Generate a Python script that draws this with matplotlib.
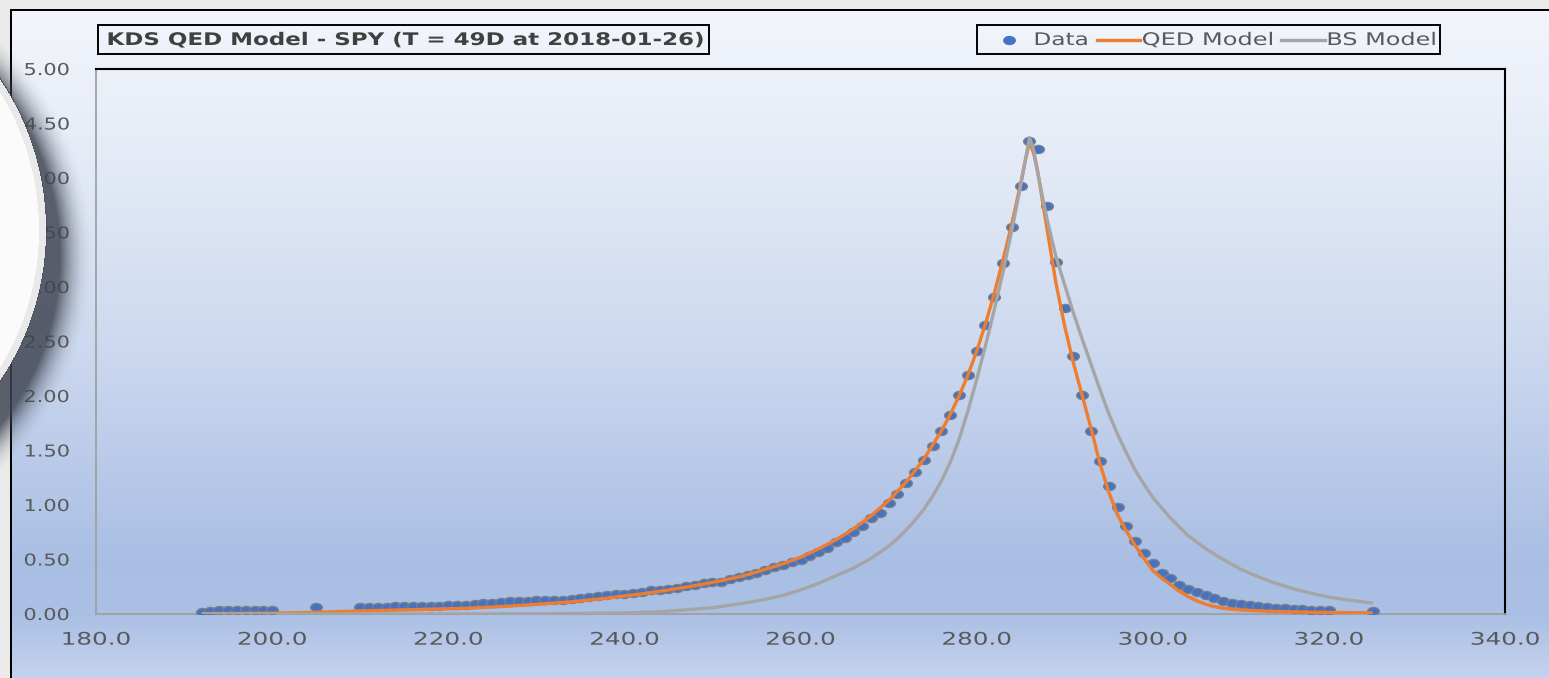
import numpy as np
import matplotlib
matplotlib.use("Agg")
import matplotlib.pyplot as plt
from matplotlib.path import Path
from matplotlib.patheffects import AbstractPathEffect
from matplotlib.transforms import Affine2D
from matplotlib.lines import Line2D
from matplotlib.patches import Rectangle
from matplotlib.markers import MarkerStyle

# ---------------- data ----------------
title = "KDS QED Model - SPY (T = 49D at 2018-01-26)"
legend_labels = ["Data", "QED Model", "BS Model"]

data_strike = list(range(192, 201)) + [205] + list(range(210, 321)) + [325]
data_price = [
    0.02, 0.03, 0.04, 0.04, 0.04, 0.04, 0.04, 0.04, 0.04,
    0.06,
    0.06, 0.06, 0.06, 0.065, 0.075, 0.075, 0.075, 0.075, 0.075, 0.075,
    0.078, 0.08, 0.085, 0.095, 0.098, 0.105, 0.107, 0.115, 0.118, 0.122,
    0.126, 0.128, 0.13, 0.132, 0.142, 0.15, 0.154, 0.165, 0.178, 0.18,
    0.183, 0.195, 0.205, 0.218, 0.222, 0.23, 0.235, 0.255, 0.27, 0.28,
    0.29, 0.298, 0.325, 0.342, 0.358, 0.375, 0.40, 0.43, 0.45, 0.48,
    0.50, 0.53, 0.57, 0.61, 0.66, 0.70, 0.75, 0.81, 0.88, 0.93,
    1.02, 1.10, 1.20, 1.30, 1.41, 1.54, 1.68, 1.83, 2.01, 2.19,
    2.41, 2.65, 2.91, 3.22, 3.55, 3.93, 4.34, 4.27, 3.74, 3.23,
    2.81, 2.37, 2.01, 1.68, 1.40, 1.17, 0.98, 0.81, 0.67, 0.56,
    0.47, 0.38, 0.33, 0.27, 0.23, 0.20, 0.175, 0.145, 0.12, 0.105,
    0.092, 0.078, 0.07, 0.068, 0.056, 0.054, 0.047, 0.045, 0.04, 0.04,
    0.038,
    0.025,
]

qed_strike = [192, 200, 205, 210, 215, 220, 222, 226, 230, 234, 238, 242, 245,
              248, 251, 254, 256, 258, 260, 262, 264, 266, 268, 270, 272, 274,
              276, 277, 278, 279, 280, 281, 282, 283, 284, 285, 285.5, 286,
              286.5, 287, 288, 289, 290, 291, 292, 293, 294, 295, 296, 297,
              298, 299, 300, 301, 302, 303, 304, 305, 306, 307, 308, 310, 313,
              318, 325]
qed_price = [0.004, 0.008, 0.015, 0.028, 0.038, 0.048, 0.052, 0.068, 0.088,
             0.112, 0.145, 0.185, 0.22, 0.26, 0.305, 0.36, 0.41, 0.46, 0.52,
             0.595, 0.68, 0.78, 0.90, 1.04, 1.21, 1.42, 1.68, 1.83, 2.00, 2.19,
             2.41, 2.66, 2.94, 3.25, 3.58, 3.95, 4.15, 4.33, 4.22, 4.03, 3.53,
             3.04, 2.64, 2.30, 2.00, 1.70, 1.38, 1.12, 0.91, 0.76, 0.63, 0.51,
             0.40, 0.33, 0.27, 0.21, 0.16, 0.12, 0.09, 0.068, 0.053, 0.036,
             0.026, 0.016, 0.01]

bs_strike = [192, 220, 230, 236, 240, 244, 248, 250, 252, 254, 256, 258, 260,
             262, 264, 266, 268, 270, 271, 272, 273, 274, 275, 276, 277, 278,
             279, 280, 281, 282, 283, 284, 285, 285.5, 286, 286.5, 287, 288,
             289, 290, 291, 292, 293, 294, 295, 296, 297, 298, 299, 300, 302,
             304, 306, 308, 310, 312, 314, 316, 318, 320, 322, 325]
bs_price = [0.0, 0.0, 0.002, 0.006, 0.01, 0.02, 0.045, 0.058, 0.08, 0.105,
            0.135, 0.17, 0.22, 0.28, 0.35, 0.42, 0.51, 0.62, 0.69, 0.77, 0.86,
            0.96, 1.08, 1.22, 1.39, 1.60, 1.86, 2.15, 2.46, 2.79, 3.14, 3.52,
            3.93, 4.15, 4.37, 4.25, 4.02, 3.62, 3.28, 3.02, 2.76, 2.52, 2.29,
            2.06, 1.84, 1.65, 1.48, 1.32, 1.19, 1.07, 0.88, 0.72, 0.60, 0.50,
            0.41, 0.34, 0.28, 0.23, 0.19, 0.155, 0.13, 0.10]

x_ticks = [180, 200, 220, 240, 260, 280, 300, 320, 340]
y_ticks = [0.0, 0.5, 1.0, 1.5, 2.0, 2.5, 3.0, 3.5, 4.0, 4.5, 5.0]

# ---------------- styling helpers ----------------
W, H = 1549, 678
DPI = 100
BLUE = "#4472c4"
ORANGE = "#ed7d31"
GREY = "#a5a5a5"
TXT = "#595959"


class StretchX(AbstractPathEffect):
    """Draw text stretched horizontally (the reference font is wide)."""

    def __init__(self, sx=1.0, anchor="center", target=None):
        super().__init__()
        self.sx = sx
        self.anchor = anchor
        self.target = target

    def draw_path(self, renderer, gc, tpath, affine, rgbFace=None):
        ext = tpath.get_extents(affine)
        sx = self.sx
        if self.target is not None and ext.width > 0:
            sx = self.target / ext.width
        if self.anchor == "left":
            a = ext.x0
        elif self.anchor == "right":
            a = ext.x1
        else:
            a = 0.5 * (ext.x0 + ext.x1)
        t = affine + Affine2D().translate(-a, 0).scale(sx, 1).translate(a, 0)
        renderer.draw_path(gc, tpath, t, rgbFace)


def fx(px):
    return px / W


def fy(py):
    return 1 - py / H


ellipse = MarkerStyle(Affine2D().scale(1.45, 1.0).transform_path(Path.unit_circle()))

fig = plt.figure(figsize=(W / DPI, H / DPI), dpi=DPI)

# ---------------- background (chart area gradient + frame) ----------------
bg_ax = fig.add_axes([0, 0, 1, 1], zorder=0)
yy = np.arange(H) + 0.5
stops_y = [9, 150, 350, 560, 615, 678]
stops_c = np.array([
    [0.95, 0.96, 0.985],
    [0.90, 0.925, 0.967],
    [0.80, 0.848, 0.937],
    [0.665, 0.748, 0.893],
    [0.67, 0.752, 0.898],
    [0.77, 0.825, 0.93],
])
col = np.stack([np.interp(yy, stops_y, stops_c[:, k]) for k in range(3)], axis=1)
bg = np.repeat(col[:, None, :], W, axis=1)
bg[:9, :, :] = 0.92
bg[:, :10, :] = 0.92
bg[9:11, 10:, :] = 0.0
bg[9:, 10:12, :] = 0.0
bg_ax.imshow(bg, extent=(0, W, H, 0), interpolation="nearest", aspect="auto")
bg_ax.set_xlim(0, W)
bg_ax.set_ylim(H, 0)
bg_ax.axis("off")

# ---------------- main plot ----------------
ax = fig.add_axes([fx(96), fy(614), (1505 - 96) / W, (614 - 69) / H], zorder=2)
ax.set_facecolor("none")
ax.plot(data_strike, data_price, linestyle="none", marker=ellipse, ms=8.4,
        mfc=BLUE, mec="#7a7f88", mew=1.0, zorder=3)
ax.plot(qed_strike, qed_price, color=ORANGE, lw=2.4, zorder=4,
        solid_joinstyle="round", solid_capstyle="butt")
ax.plot(bs_strike, bs_price, color=GREY, lw=2.4, zorder=5,
        solid_joinstyle="round", solid_capstyle="butt")

ax.set_xlim(180, 340)
ax.set_ylim(0, 5)
ax.set_xticks(x_ticks)
ax.set_xticklabels([f"{v:.1f}" for v in x_ticks])
ax.set_yticks(y_ticks)
ax.set_yticklabels([f"{v:.2f}" for v in y_ticks])
ax.tick_params(axis="both", length=0, colors=TXT)
ax.tick_params(axis="x", labelsize=12.5, pad=12)
ax.tick_params(axis="y", labelsize=11.8, pad=19)
for lbl in ax.get_xticklabels():
    lbl.set_path_effects([StretchX(1.42, "center")])
for lbl in ax.get_yticklabels():
    lbl.set_path_effects([StretchX(1.27, "right")])

for s in ("left", "bottom"):
    ax.spines[s].set_color("#a0a0a0")
    ax.spines[s].set_linewidth(1.3)
for s in ("top", "right"):
    ax.spines[s].set_color("black")
    ax.spines[s].set_linewidth(1.5)

# ---------------- title box ----------------
fig.add_artist(Rectangle((fx(98), fy(54)), (709 - 98) / W, 29 / H,
                         transform=fig.transFigure, fill=False, ec="black",
                         lw=1.4, zorder=6))
fig.text(fx(107), fy(40), title, ha="left", va="center", fontsize=12.5,
         fontweight="bold", color="#404040", zorder=6,
         path_effects=[StretchX(anchor="left", target=594)])

# ---------------- legend ----------------
fig.add_artist(Rectangle((fx(977), fy(54)), (1440 - 977) / W, 29 / H,
                         transform=fig.transFigure, fill=False, ec="black",
                         lw=1.4, zorder=6))
fig.add_artist(Line2D([fx(1009)], [fy(40)], transform=fig.transFigure,
                      linestyle="none", marker=ellipse, ms=8.2, mfc=BLUE,
                      mec=BLUE, zorder=6))
fig.add_artist(Line2D([fx(1097), fx(1140)], [fy(40), fy(40)],
                      transform=fig.transFigure, color=ORANGE, lw=2.4, zorder=6))
fig.add_artist(Line2D([fx(1281), fx(1325)], [fy(40), fy(40)],
                      transform=fig.transFigure, color=GREY, lw=2.4, zorder=6))
for txt, left, width in zip(legend_labels, [1034, 1142, 1327], [51, 129, 106]):
    fig.text(fx(left), fy(40), txt, ha="left", va="center", fontsize=12.5,
             color=TXT, zorder=6,
             path_effects=[StretchX(anchor="left", target=width)])

# ---------------- round overlay with shadow (left edge) ----------------
ov = fig.add_axes([0, 0, 1, 1], zorder=10)
Y, X = np.mgrid[0:H, 0:W] + 0.5
cx, cy, R = -224.0, 230.0, 270.0
d = np.hypot(X - cx, Y - cy)
ds = np.hypot(X - (cx + 14), Y - (cy + 26)) - R
rgba = np.zeros((H, W, 4))
sh = np.clip(1 - ds / 34.0, 0, 1) ** 2.0 * 0.84
rgba[..., 0] = 0.25
rgba[..., 1] = 0.27
rgba[..., 2] = 0.32
rgba[..., 3] = np.where(d >= R, sh, 0)
inside = d < R
rim = (d >= R - 7) & inside
rgba[inside, :3] = 0.985
rgba[rim, :3] = 0.915
rgba[inside, 3] = 1.0
edge = (d >= R - 1) & (d < R + 1)
rgba[edge, 3] = np.maximum(rgba[edge, 3], 0.9)
ov.imshow(rgba, extent=(0, W, H, 0), interpolation="bilinear", aspect="auto")
ov.set_xlim(0, W)
ov.set_ylim(H, 0)
ov.axis("off")

fig.savefig("out.png", dpi=DPI)
